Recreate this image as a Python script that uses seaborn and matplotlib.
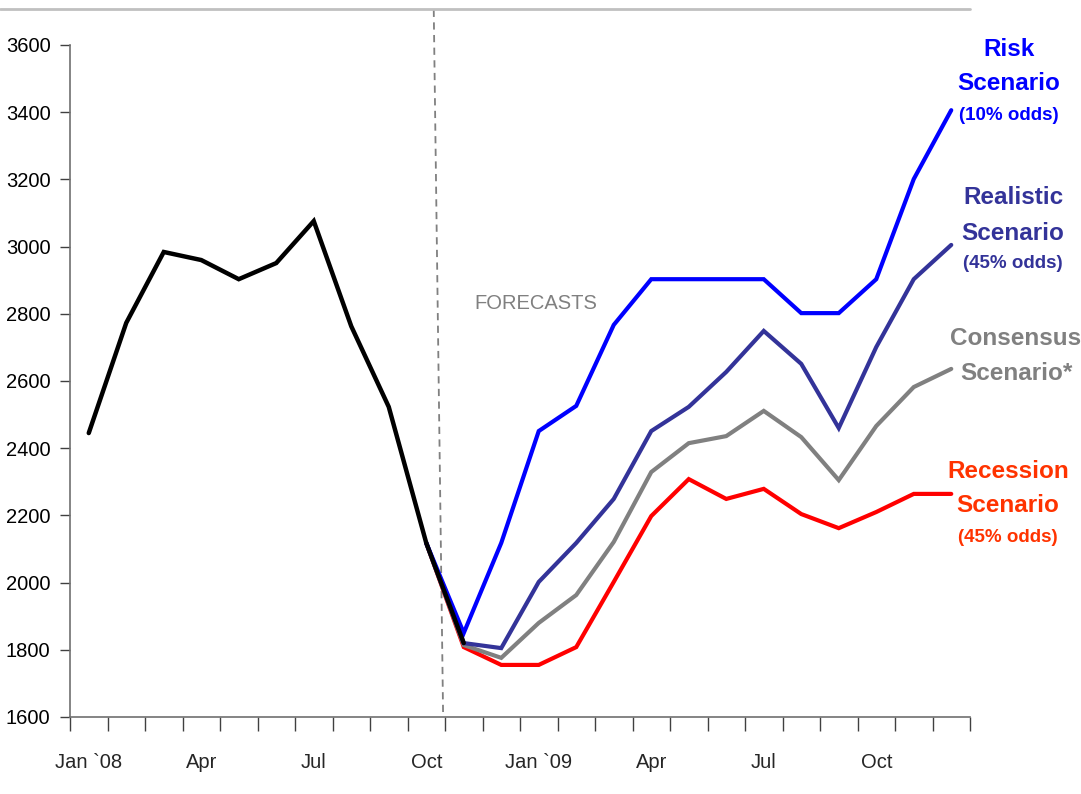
import matplotlib
matplotlib.use("Agg")
import matplotlib.pyplot as plt
from matplotlib.lines import Line2D
import seaborn as sns
import pandas as pd
import numpy as np

# Monthly index, Jan 2008 - Dec 2009 (24 months)
months = list(range(24))
tick_labels = ["Jan `08", "Apr", "Jul", "Oct", "Jan `09", "Apr", "Jul", "Oct"]
tick_positions = [0, 3, 6, 9, 12, 15, 18, 21]

# Actual history (Jan - Nov 2008)
history = [2445, 2773, 2984, 2960, 2903, 2951, 3076, 2763, 2523, 2118, 1820]

# Forecast scenarios, starting from Oct 2008
forecast_months = list(range(9, 24))
risk = [2118, 1850, 2118, 2451, 2526, 2767, 2903, 2903, 2903, 2903, 2802, 2802, 2903, 3201, 3406]
realistic = [2118, 1820, 1805, 2002, 2118, 2249, 2451, 2523, 2627, 2749, 2651, 2460, 2701, 2903, 3005]
consensus = [2118, 1814, 1776, 1880, 1963, 2121, 2329, 2415, 2436, 2511, 2433, 2305, 2466, 2582, 2636]
recession = [2118, 1808, 1755, 1755, 1808, 2002, 2198, 2308, 2249, 2279, 2204, 2162, 2210, 2264, 2264]

forecast_start = 9.2   # dashed separator between actuals and forecasts

series = {
    "Recession": (recession, "#FF0000"),
    "Consensus": (consensus, "#808080"),
    "Realistic": (realistic, "#333399"),
    "Risk": (risk, "#0000FF"),
}

sns.set_style("white")
plt.rcParams["font.family"] = ["Liberation Sans", "DejaVu Sans"]

fig = plt.figure(figsize=(10.81, 7.94), dpi=100)
ax = fig.add_axes([70 / 1081, 1 - 717 / 794, 900 / 1081, (717 - 45) / 794])

for name, (vals, color) in series.items():
    df = pd.DataFrame({"month": forecast_months, "value": vals})
    sns.lineplot(data=df, x="month", y="value", ax=ax, color=color, lw=3.0,
                 solid_joinstyle="miter", zorder=3)

hist_df = pd.DataFrame({"month": months[:len(history)], "value": history})
sns.lineplot(data=hist_df, x="month", y="value", ax=ax, color="black", lw=3.2,
             solid_joinstyle="miter", zorder=4)

ax.set_xlim(-0.5, 23.5)
ax.set_ylim(1600, 3600)
ax.set_xlabel("")
ax.set_ylabel("")

ax.set_yticks(np.arange(1600, 3601, 200))
ax.tick_params(axis="y", which="major", length=7, width=1, color="#404040",
               pad=7, labelsize=14.5, labelcolor="black", left=True)

ax.set_xticks(tick_positions)
ax.set_xticklabels(tick_labels)
ax.set_xticks(np.arange(-0.5, 24, 1), minor=True)
ax.tick_params(axis="x", which="major", length=0, pad=26, labelsize=14.5)
ax.tick_params(axis="x", which="minor", length=10, width=1, color="#404040", bottom=True)

for side in ["top", "right"]:
    ax.spines[side].set_visible(False)
for side in ["left", "bottom"]:
    ax.spines[side].set_color("#707070")
    ax.spines[side].set_linewidth(1.2)

# Separator between actual data and forecasts
ax.plot([forecast_start, forecast_start + 0.25], [3705, 1600], ls=(0, (4, 3)),
        color="#808080", lw=1.3, clip_on=False, zorder=2)
ax.text(11.93, 2830, "FORECASTS", color="#808080", fontsize=14.5, ha="center", va="center")

# Top border line
fig.add_artist(Line2D([0, 970 / 1081], [1 - 9 / 794, 1 - 9 / 794], color="#C0C0C0", lw=2))

# Scenario labels on the right
labels = [
    (["Risk", "Scenario"], "(10% odds)", "#0000FF", 49, 1009),
    (["Realistic", "Scenario"], "(45% odds)", "#333399", 198, 1013),
    (["Consensus", "Scenario*"], None, "#808080", 339, 1016),
    (["Recession", "Scenario"], "(45% odds)", "#FF3300", 471, 1008),
]
for lines, odds, color, ytop, xc in labels:
    y = ytop
    for line in lines:
        fig.text(xc / 1081, 1 - y / 794, line, color=color, fontsize=17.5,
                 fontweight="bold", ha="center", va="center")
        y += 35
    if odds:
        fig.text(xc / 1081, 1 - (y - 4) / 794, odds, color=color, fontsize=13.5,
                 fontweight="bold", ha="center", va="center")

fig.savefig("out.png", dpi=100)
